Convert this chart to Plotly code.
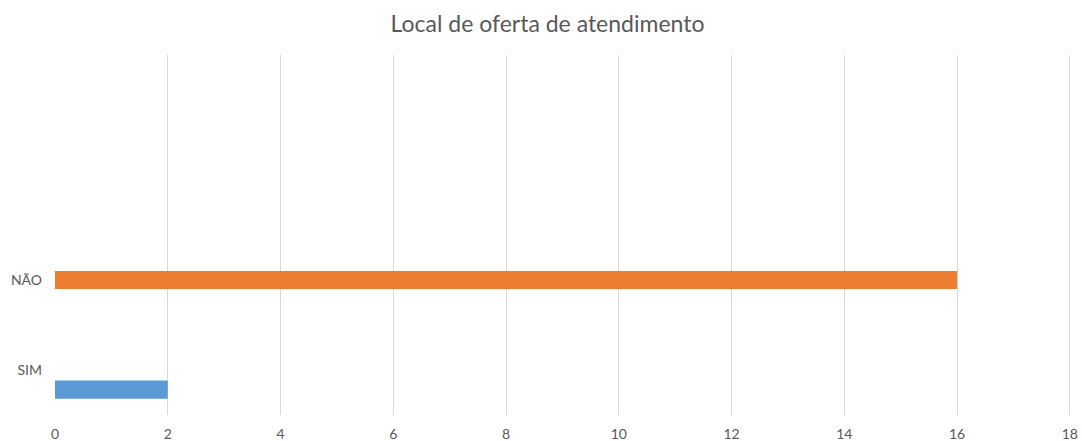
import plotly.graph_objects as go

categories = ["SIM", "NÃO"]
sim_values = [2, None]
nao_values = [None, 16]
x_ticks = [0, 2, 4, 6, 8, 10, 12, 14, 16, 18]

fig = go.Figure()
fig.add_trace(go.Bar(y=categories, x=sim_values, orientation="h",
                     marker=dict(color="#5B9BD5", line=dict(width=0)),
                     width=0.202, offset=-0.32, name="SIM"))
fig.add_trace(go.Bar(y=categories, x=nao_values, orientation="h",
                     marker=dict(color="#ED7D31", line=dict(width=0)),
                     width=0.202, offset=-0.101, name="NÃO"))

fig.update_layout(
    width=1082, height=441,
    margin=dict(l=55, r=11, t=55, b=26, autoexpand=False),
    paper_bgcolor="white", plot_bgcolor="white",
    showlegend=False,
    title=dict(text="Local de oferta de atendimento", x=0.506, xanchor="center",
               y=0.9456, yanchor="middle",
               font=dict(family="Lato", size=23, color="#595959")),
    font=dict(family="Lato", size=14, color="#595959"),
)
fig.update_xaxes(range=[0, 18.02], tickvals=x_ticks, showgrid=True, gridcolor="#D9D9D9",
                 gridwidth=1, zeroline=False, showline=False, ticks="",
                 automargin=False, ticklabelstandoff=9,
                 tickfont=dict(size=14, color="#595959"))
fig.update_yaxes(type="category", categoryorder="array", categoryarray=categories,
                 range=[-0.5, 3.5], showgrid=False, zeroline=False, showline=False,
                 ticks="", ticklabelstandoff=12, automargin=False,
                 tickfont=dict(size=14, color="#595959"))

fig.write_html(
    "out.html",
    config={"displayModeBar": False},
    post_script="document.body.style.margin='0';document.body.style.overflow='hidden';",
)
